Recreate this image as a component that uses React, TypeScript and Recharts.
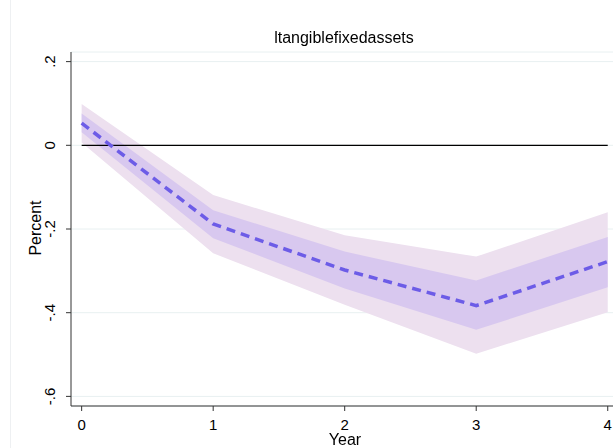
import React from 'react';
import {
  ComposedChart,
  Area,
  Line,
  XAxis,
  YAxis,
  CartesianGrid,
} from 'recharts';

const years = [0, 1, 2, 3, 4];
const estimate = [0.053, -0.188, -0.298, -0.383, -0.278];
const innerLow = [0.031, -0.222, -0.342, -0.441, -0.339];
const innerHigh = [0.076, -0.155, -0.254, -0.323, -0.219];
const outerLow = [0.007, -0.258, -0.381, -0.498, -0.399];
const outerHigh = [0.099, -0.119, -0.215, -0.266, -0.16];
const yTicks = [-0.6, -0.4, -0.2, 0, 0.2];

const data = years.map((year, i) => ({
  year,
  est: estimate[i],
  inner: [innerLow[i], innerHigh[i]],
  outer: [outerLow[i], outerHigh[i]],
  zero: 0,
}));

const FONT = '"Liberation Sans", Arial, sans-serif';

const fmt = (v: number) => (v === 0 ? '0' : v.toFixed(1).replace('0.', '.'));

function YTick(props: any) {
  const { x, y, payload } = props;
  return (
    <text
      x={0}
      y={0}
      transform={`translate(${x - 15},${y}) rotate(-90)`}
      textAnchor="middle"
      dominantBaseline="central"
      fontSize={15}
      fontFamily={FONT}
      fill="#000"
    >
      {fmt(payload.value)}
    </text>
  );
}

function XTick(props: any) {
  const { x, y, payload } = props;
  return (
    <text x={x} y={y + 11} textAnchor="middle" dominantBaseline="central" fontSize={15} fontFamily={FONT} fill="#000">
      {payload.value}
    </text>
  );
}

export default function App() {
  return (
    <div style={{ position: 'fixed', left: 0, top: 0, width: 613, height: 448, background: '#fff', fontFamily: FONT }}>
      <div style={{ position: 'absolute', left: 10, top: 0, width: 1, height: 448, background: '#eef0f2' }} />
      <ComposedChart width={613} height={448} data={data} margin={{ top: 52, right: 0, bottom: 0, left: 0 }}>
        <CartesianGrid vertical={false} stroke="#e8f0f1" />
        <XAxis
          dataKey="year"
          type="number"
          domain={[-0.081, 4.04]}
          ticks={years}
          height={42}
          tickSize={5}
          tick={<XTick />}
          stroke="#333"
          allowDataOverflow
        />
        <YAxis
          type="number"
          domain={[-0.623, 0.223]}
          ticks={yTicks}
          width={71}
          tickSize={5}
          tick={<YTick />}
          stroke="#333"
          allowDataOverflow
        />
        <Area dataKey="outer" type="linear" stroke="none" fill="#ede0ef" fillOpacity={1} isAnimationActive={false} />
        <Area dataKey="inner" type="linear" stroke="none" fill="#d8c8ef" fillOpacity={1} isAnimationActive={false} />
        <Line dataKey="zero" type="linear" stroke="#000" strokeWidth={1.2} dot={false} isAnimationActive={false} />
        <Line
          dataKey="est"
          type="linear"
          stroke="#6c5ce7"
          strokeWidth={3.5}
          strokeDasharray="9 6"
          dot={false}
          isAnimationActive={false}
        />
      </ComposedChart>
      <div style={{ position: 'absolute', left: 71, width: 546, top: 38, transform: 'translateY(-50%)', textAlign: 'center', fontSize: 16, lineHeight: '18px' }}>
        ltangiblefixedassets
      </div>
      <div
        style={{
          position: 'absolute',
          left: 36,
          top: 228,
          transform: 'translate(-50%,-50%) rotate(-90deg)',
          fontSize: 16,
          lineHeight: '18px',
          whiteSpace: 'nowrap',
        }}
      >
        Percent
      </div>
      <div style={{ position: 'absolute', left: 71, width: 548, top: 431, textAlign: 'center', fontSize: 16, lineHeight: '18px' }}>Year</div>
    </div>
  );
}
